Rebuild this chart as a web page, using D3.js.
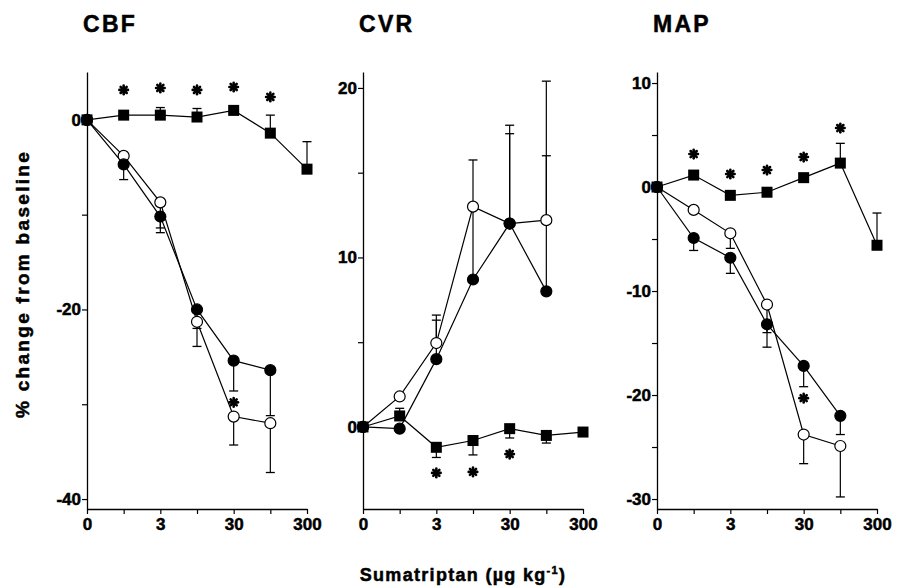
<!DOCTYPE html>
<html>
<head>
<meta charset="utf-8">
<script src="https://d3js.org/d3.v7.min.js"></script>
<style>
  html, body { margin: 0; padding: 0; background: #fff; }
  text { font-family: "Liberation Sans", Arial, sans-serif; font-weight: bold; fill: #000; stroke: #000; stroke-width: 0.5px; }
</style>
</head>
<body>
<div id="chart"></div>
<script>
// dose categories (ug/kg) - only every second one is labelled
const doses = ["0", "1", "3", "10", "30", "100", "300"];
const doseLabels = ["0", "", "3", "", "30", "", "300"];

// CBF (% change) - squares, open circles, filled circles; error bar ends (null = none)
const cbfSquare = [0, 0.5, 0.5, 0.3, 1.0, -1.4, -5.2];
const cbfSquareErr = [null, null, 1.3, 1.2, null, 0.5, -2.3];
const cbfOpen = [0, -3.8, -8.7, -21.3, -31.3, -32.0];
const cbfOpenErr = [null, null, -11.4, -23.9, -34.3, -37.2];
const cbfFilled = [0, -4.7, -10.2, -20.0, -25.4, -26.4];
const cbfFilledErr = [null, -6.3, -11.9, -22.0, -28.6, -31.2];
const cbfStarIdx = [1, 2, 3, 4, 5, 4];
const cbfStarVal = [3.16, 3.37, 3.16, 3.47, 2.42, -29.8];

// CVR
const cvrSquare = [0, 0.65, -1.2, -0.8, -0.1, -0.5, -0.3];
const cvrSquareErr = [null, 1.1, -1.8, -1.65, -0.65, -0.95, null];
const cvrOpen = [0, 1.8, 4.95, 13.0, 12.0, 12.2];
const cvrOpenErr = [null, null, 6.6, 15.75, 17.8, 16.0];
const cvrFilled = [0, -0.1, 4.0, 8.7, 12.0, 8.0];
const cvrFilledErr = [null, null, 6.3, 12.9, 17.3, 20.4];
const cvrStarIdx = [2, 3, 4];
const cvrStarVal = [-2.71, -2.65, -1.6];

// MAP
const mapSquare = [0, 1.15, -0.8, -0.5, 0.9, 2.3, -5.6];
const mapSquareErr = [null, null, null, null, null, 4.2, -2.5];
const mapOpen = [0, -2.2, -4.45, -11.3, -23.8, -24.9];
const mapOpenErr = [null, null, -5.9, -14.0, -26.6, -29.8];
const mapFilled = [0, -4.9, -6.8, -13.2, -17.2, -22.0];
const mapFilledErr = [null, -6.1, -8.3, -15.4, -19.2, -23.8];
const mapStarIdx = [1, 2, 3, 4, 5, 4];
const mapStarVal = [3.17, 1.25, 1.63, 2.88, 5.67, -20.3];

const width = 904, height = 588;
const svg = d3.select("#chart").append("svg")
  .attr("width", width).attr("height", height);

const panels = [
  { title: "CBF", left: 87, yDomain: [-41.05, 5.05], ticks: [0, -10, -20, -30, -40], labelEvery: 20,
    sq: cbfSquare, sqErr: cbfSquareErr, op: cbfOpen, opErr: cbfOpenErr, fi: cbfFilled, fiErr: cbfFilledErr,
    starIdx: cbfStarIdx, starVal: cbfStarVal },
  { title: "CVR", left: 363, yDomain: [-4.84, 20.94], ticks: [0, 5, 10, 15, 20], labelEvery: 10,
    sq: cvrSquare, sqErr: cvrSquareErr, op: cvrOpen, opErr: cvrOpenErr, fi: cvrFilled, fiErr: cvrFilledErr,
    starIdx: cvrStarIdx, starVal: cvrStarVal },
  { title: "MAP", left: 657, yDomain: [-30.96, 11.06], ticks: [10, 5, 0, -5, -10, -15, -20, -25, -30], labelEvery: 10,
    sq: mapSquare, sqErr: mapSquareErr, op: mapOpen, opErr: mapOpenErr, fi: mapFilled, fiErr: mapFilledErr,
    starIdx: mapStarIdx, starVal: mapStarVal }
];

const plotTop = 72, plotBottom = 509, plotW = 220;

panels.forEach(function (p) {
  const x = d3.scalePoint().domain(doses).range([p.left, p.left + plotW]);
  const y = d3.scaleLinear().domain(p.yDomain).range([plotBottom, plotTop]);
  const g = svg.append("g");

  // title
  g.append("text")
    .attr("x", p.left - 4).attr("y", 32)
    .style("font-size", "23px").style("letter-spacing", "2.3px")
    .text(p.title);

  // axes
  const yAxis = d3.axisLeft(y).tickValues(p.ticks).tickSize(5).tickSizeOuter(0)
    .tickFormat(function (d) { return d % p.labelEvery === 0 ? (d < 0 ? "-" + Math.abs(d) : String(d)) : ""; });
  const ya = g.append("g").attr("transform", "translate(" + p.left + ",0)").call(yAxis);

  const xAxis = d3.axisBottom(x).tickSize(5).tickSizeOuter(0)
    .tickFormat(function (d, i) { return doseLabels[i]; });
  const xa = g.append("g").attr("transform", "translate(0," + plotBottom + ")").call(xAxis);

  [ya, xa].forEach(function (a) {
    a.select(".domain").attr("stroke", "#000").attr("stroke-width", 1.3);
    a.selectAll(".tick line").attr("stroke", "#000").attr("stroke-width", 1.2);
    a.selectAll(".tick text").style("font-size", "17px").style("font-family", "Liberation Sans, Arial, sans-serif")
      .style("font-weight", "bold").attr("fill", "#000");
  });
  ya.selectAll(".tick text").attr("x", -6);
  xa.selectAll(".tick text").attr("y", 9);

  const line = d3.line()
    .defined(function (d) { return d != null; })
    .x(function (d, i) { return x(doses[i]); })
    .y(function (d) { return y(d); });

  const series = [
    { v: p.op, e: p.opErr, kind: "open" },
    { v: p.fi, e: p.fiErr, kind: "filled" },
    { v: p.sq, e: p.sqErr, kind: "square" }
  ];

  // lines
  series.forEach(function (s) {
    g.append("path").datum(s.v)
      .attr("d", line).attr("fill", "none").attr("stroke", "#000").attr("stroke-width", 1.2);
  });

  // error bars
  series.forEach(function (s) {
    s.e.forEach(function (ev, i) {
      if (ev == null) return;
      const cx = x(doses[i]);
      g.append("line").attr("x1", cx).attr("x2", cx)
        .attr("y1", y(s.v[i])).attr("y2", y(ev))
        .attr("stroke", "#000").attr("stroke-width", 1.2);
      g.append("line").attr("x1", cx - 4.5).attr("x2", cx + 4.5)
        .attr("y1", y(ev)).attr("y2", y(ev))
        .attr("stroke", "#000").attr("stroke-width", 1.3);
    });
  });

  // markers
  series.forEach(function (s) {
    s.v.forEach(function (v, i) {
      const cx = x(doses[i]), cy = y(v);
      if (s.kind === "square") {
        g.append("rect").attr("x", cx - 5.5).attr("y", cy - 5.5)
          .attr("width", 11).attr("height", 11).attr("fill", "#000");
      } else {
        g.append("circle").attr("cx", cx).attr("cy", cy).attr("r", 5.5)
          .attr("fill", s.kind === "open" ? "#fff" : "#000")
          .attr("stroke", "#000").attr("stroke-width", 1.2);
      }
    });
  });

  // significance asterisks
  p.starIdx.forEach(function (idx, k) {
    const cx = x(doses[idx]), cy = y(p.starVal[k]);
    const st = g.append("g").attr("transform", "translate(" + cx + "," + cy + ")");
    [0, 45, 90, 135].forEach(function (a) {
      st.append("line").attr("x1", 0).attr("y1", -4.3).attr("x2", 0).attr("y2", 4.3)
        .attr("transform", "rotate(" + a + ")")
        .attr("stroke", "#000").attr("stroke-width", 2.6).attr("stroke-linecap", "round");
    });
  });
});

// axis titles
svg.append("text")
  .attr("transform", "translate(29,284) rotate(-90)")
  .attr("text-anchor", "middle")
  .style("font-size", "19px").style("letter-spacing", "2.3px")
  .text("% change from baseline");

const xl = svg.append("text")
  .attr("x", 463).attr("y", 581).attr("text-anchor", "middle")
  .style("font-size", "18px").style("letter-spacing", "1.3px");
xl.append("tspan").text("Sumatriptan (µg kg");
xl.append("tspan").attr("dy", -7).style("font-size", "11px").text("-1");
xl.append("tspan").attr("dy", 7).text(")");
</script>
</body>
</html>
